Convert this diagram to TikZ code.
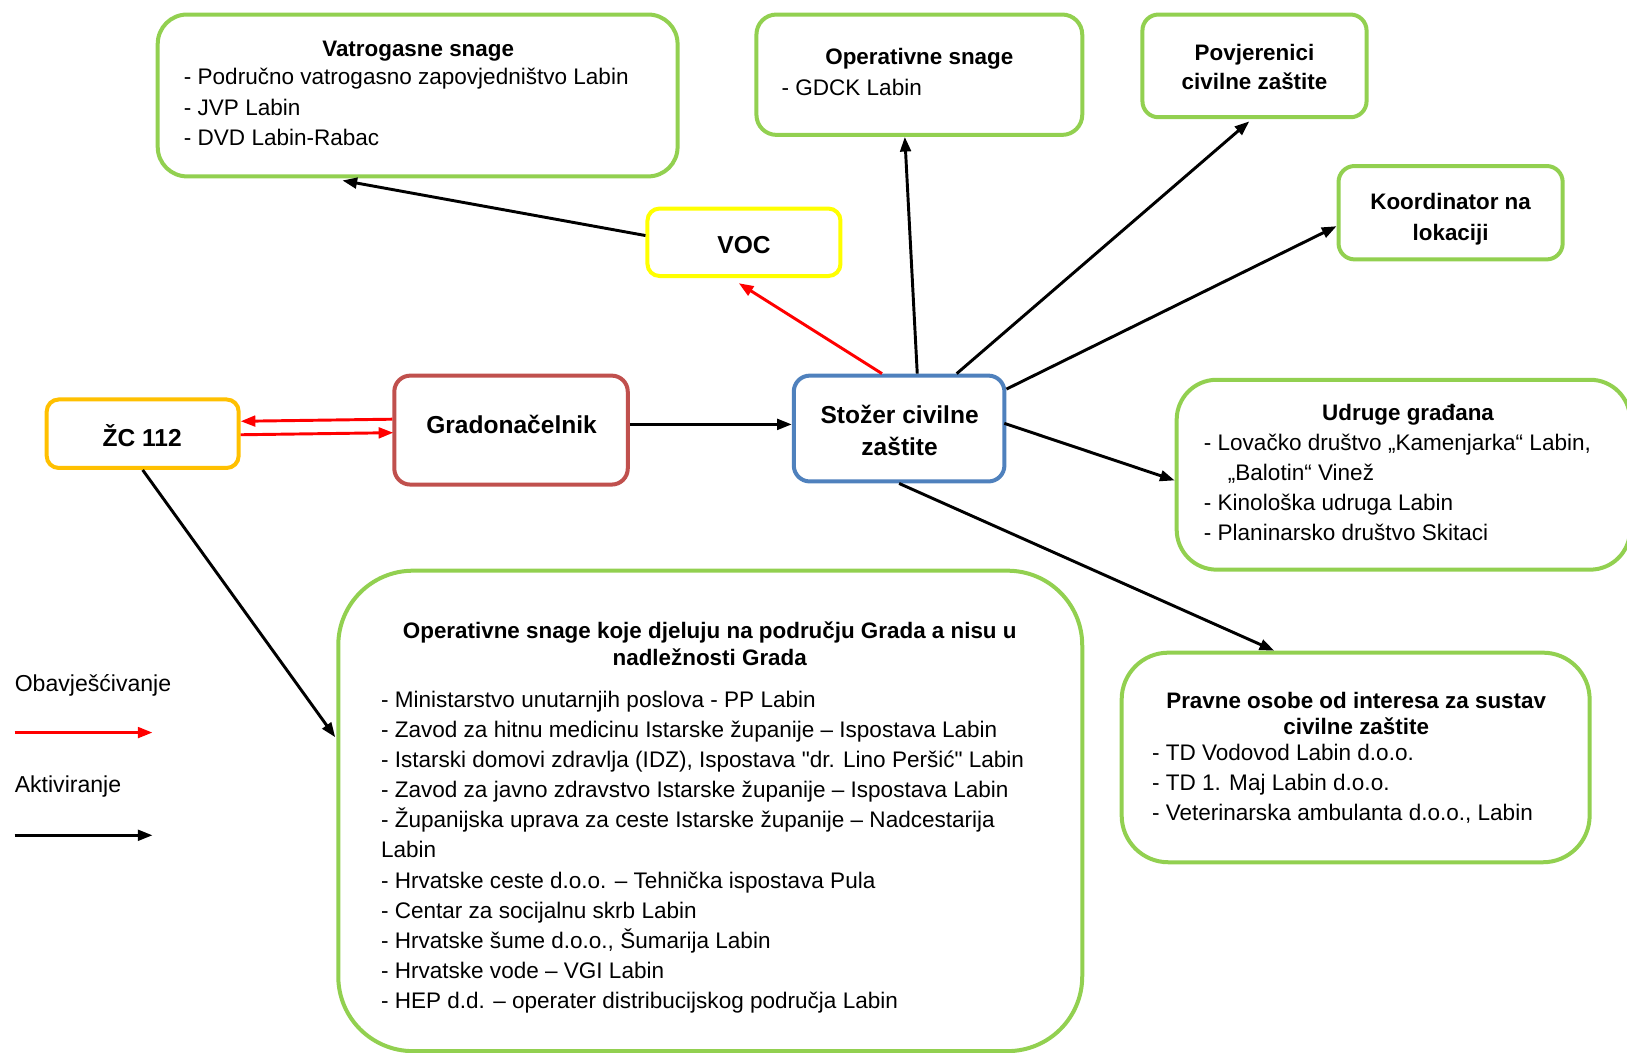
\documentclass[tikz,border=0pt]{standalone}
\usepackage{fontspec}
\setmainfont{Liberation Sans}[Ligatures=TeXOff]
\usetikzlibrary{arrows.meta,fit,calc}
\definecolor{cgreen}{HTML}{92D050}
\definecolor{cyellow}{HTML}{FFFF00}
\definecolor{corange}{HTML}{FFC000}
\definecolor{cbrown}{HTML}{C0504D}
\definecolor{cblue}{HTML}{4F81BD}
\definecolor{cred}{HTML}{FF0000}
\newcommand\fN{\fontsize{16.9}{22.6}\selectfont}
\newcommand\fT{\bfseries\fontsize{16.8}{20.2}\selectfont}
\newcommand\fB{\bfseries\fontsize{18.4}{24}\selectfont}
\newcommand\fL{\fontsize{17.3}{22}\selectfont}
\begin{document}
\begin{tikzpicture}[x=0.7782pt,y=-0.7782pt,
  box/.style={draw=cgreen,line width=3pt,inner sep=0pt,fill=white},
  act/.style={line width=2.2pt,draw=black,-{Triangle[length=11pt,width=8pt]}},
  info/.style={act,draw=cred},
  lst/.style={inner sep=0pt,font=\fN,align=left,anchor=base west},
  ttl/.style={inner sep=0pt,font=\fT,align=center},
  bigt/.style={inner sep=0pt,font=\fB,align=center}]
\useasboundingbox (0,0) rectangle (1568,1014);

% boxes
\node[box,rounded corners=22pt,fit={(152,14)(653,170)}] (vatro) {};
\node[box,rounded corners=15pt,fit={(729,14)(1043,130)}] (ops) {};
\node[box,rounded corners=12pt,fit={(1101,14)(1317,113)}] (povj) {};
\node[box,rounded corners=12pt,fit={(1290,160)(1506,250)}] (koord) {};
\node[box,draw=cyellow,rounded corners=9pt,fit={(624,201)(810,266)}] (voc) {};
\node[box,draw=corange,rounded corners=9pt,fit={(45,385)(230,451)}] (zc) {};
\node[box,draw=cbrown,rounded corners=12pt,fit={(380,362)(605,467)}] (grad) {};
\node[box,draw=cblue,rounded corners=12pt,fit={(765,362)(968,464)}] (stozer) {};
\node[box,rounded corners=30pt,fit={(1134,366)(1571,549)}] (udruge) {};
\node[box,rounded corners=56pt,fit={(326,550)(1043,1013)}] (bigbox) {};
\node[box,rounded corners=35pt,fit={(1081,629)(1532,831)}] (pravne) {};

% texts
\node[ttl,anchor=base] (vatroT) at (403,54) {Vatrogasne snage};
\node[lst] (vatroL) at (177,140) {- Područno vatrogasno zapovjedništvo Labin\\- JVP Labin\\- DVD Labin-Rabac};
\node[ttl,anchor=base] (opsT) at (886,62) {Operativne snage};
\node[lst] (opsL) at (753,92) {- GDCK Labin};
\node[ttl,font=\bfseries\fontsize{16.8}{21.8}\selectfont] (povjT) at (1209,65) {Povjerenici\\civilne zaštite};
\node[ttl,font=\bfseries\fontsize{16.8}{23.3}\selectfont] (koordT) at (1398,211) {Koordinator na\\lokaciji};
\node[bigt] (vocT) at (717,236) {VOC};
\node[bigt] (zcT) at (137,420) {ŽC 112};
\node[bigt] (gradT) at (493,409) {Gradonačelnik};
\node[bigt] (stozerT) at (867,415) {Stožer civilne\\zaštite};
\node[ttl,anchor=base] (udrugeT) at (1357,405) {Udruge građana};
\node[lst] (udrugeL) at (1160,521) {- Lovačko društvo „Kamenjarka“ Labin,\\\hspace*{18pt}„Balotin“ Vinež\\- Kinološka udruga Labin\\- Planinarsko društvo Skitaci};
\node[ttl] (bigT) at (684,620) {Operativne snage koje djeluju na području Grada a nisu u\\nadležnosti Grada};
\node[lst] (bigL) at (367,972) {- Ministarstvo unutarnjih poslova - PP Labin\\- Zavod za hitnu medicinu Istarske županije – Ispostava Labin\\- Istarski domovi zdravlja (IDZ), Ispostava "dr. Lino Peršić" Labin\\- Zavod za javno zdravstvo Istarske županije – Ispostava Labin\\- Županijska uprava za ceste Istarske županije – Nadcestarija\\Labin\\- Hrvatske ceste d.o.o. – Tehnička ispostava Pula\\- Centar za socijalnu skrb Labin\\- Hrvatske šume d.o.o., Šumarija Labin\\- Hrvatske vode – VGI Labin\\- HEP d.d. – operater distribucijskog područja Labin};
\node[ttl,font=\bfseries\fontsize{16.8}{19.5}\selectfont] (pravneT) at (1307,688) {Pravne osobe od interesa za sustav\\civilne zaštite};
\node[lst] (pravneL) at (1110,791) {- TD Vodovod Labin d.o.o.\\- TD 1. Maj Labin d.o.o.\\- Veterinarska ambulanta d.o.o., Labin};

% legend
\node[inner sep=0pt,font=\fL,anchor=base west] (legInfo) at (14,666) {Obavješćivanje};
\node[inner sep=0pt,font=\fL,anchor=base west] (legAct) at (14,764) {Aktiviranje};
\coordinate (li1) at (14,706);
\coordinate (li2) at (147,706);
\coordinate (la1) at (14,805);
\coordinate (la2) at (147,805);
\draw[info] (li1) -- (li2);
\draw[act] (la1) -- (la2);

% connectors
\draw[act] ($(voc.west)+(0,-6.5)$) -- ($(vatro.south)+(-72.5,2)$);
\draw[act] ($(stozer.north)+(17.5,0)$) -- ($(ops.south)+(-14,0)$);
\draw[act] ($(stozer.north)+(55.5,0)$) -- ($(povj.south)+(-5,2)$);
\draw[act] ($(stozer.east)+(0,-38)$) -- ($(koord.west)+(0,13)$);
\draw[act] ($(stozer.east)+(-2,-5)$) -- ($(udruge.west)+(0,5.5)$);
\draw[act] (stozer.south) -- ($(pravne.north)+(-78.5,0)$);
\draw[info] ($(stozer.north)+(-16.5,0)$) -- ($(voc.south)+(-5,5)$);
\draw[act] ($(grad.east)+(0,-5.5)$) -- ($(stozer.west)+(0,-4)$);
\draw[act] (zc.south) -- ($(bigbox.west)+(-1,-71)$);
\draw[info] ($(grad.west)+(0,-10.5)$) -- ($(zc.east)+(0,-12)$);
\draw[info] ($(zc.east)+(0,1)$) -- ($(grad.west)+(1,2.5)$);
\end{tikzpicture}
\end{document}
